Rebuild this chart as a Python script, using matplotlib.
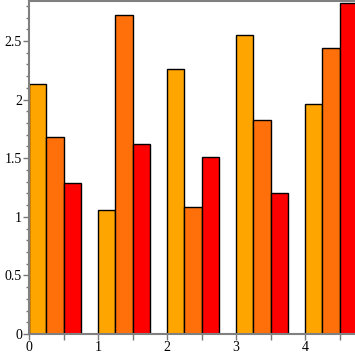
import matplotlib
matplotlib.use('Agg')
import matplotlib.pyplot as plt
from matplotlib.ticker import MultipleLocator

groups = [0, 1, 2, 3, 4]
series_a = [2.13, 1.06, 2.26, 2.55, 1.96]
series_b = [1.68, 2.72, 1.08, 1.83, 2.44]
series_c = [1.29, 1.62, 1.51, 1.20, 2.82]
colors = ['#FFA500', '#FF700A', '#FF0000']
ytick_vals = [0, 0.5, 1, 1.5, 2, 2.5]
ytick_labels = ['0', '0.5', '1', '1.5', '2', '2.5']

plt.rcParams['font.family'] = ['Liberation Serif', 'DejaVu Serif']

fig = plt.figure(figsize=(3.55, 3.55), dpi=100)
ax = fig.add_axes([29/355, 21/355, 1 - 29/355, 333/355])

w = 0.25
for k, vals in enumerate([series_a, series_b, series_c]):
    ax.bar([g + k*w for g in groups], vals, width=w, align='edge',
           color=colors[k], edgecolor='black', linewidth=1.0)

ax.set_xlim(0, 326/69)
ax.set_ylim(0, 333/117.2)

ax.set_xticks(groups)
ax.set_xticklabels([str(g) for g in groups])
ax.xaxis.set_minor_locator(MultipleLocator(0.5))
ax.set_yticks(ytick_vals)
ax.set_yticklabels(ytick_labels)
ax.yaxis.set_minor_locator(MultipleLocator(0.1))

ax.tick_params(axis='both', which='major', length=4, width=1, color='#777777',
               labelsize=10, pad=1)
ax.tick_params(axis='both', which='minor', length=2.5, width=1, color='#777777')
ax.tick_params(axis='x', which='minor', length=4)

for s in ['left', 'bottom', 'top']:
    ax.spines[s].set_color('#808080')
    ax.spines[s].set_linewidth(1.5)
ax.spines['right'].set_visible(False)

fig.savefig('out.png', dpi=100)
